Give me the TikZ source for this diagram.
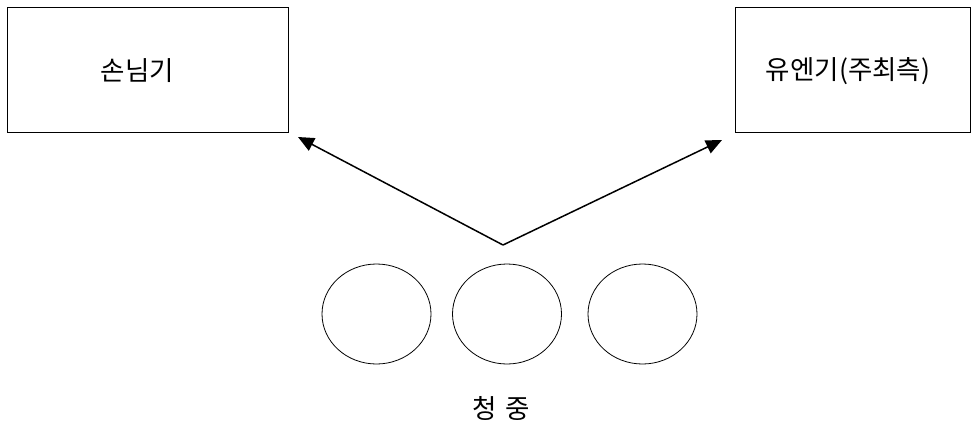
\documentclass[tikz,border=0pt]{standalone}
\usepackage{fontspec}
\newfontfamily\kr{Noto Sans CJK KR}
\usetikzlibrary{arrows.meta,shapes.geometric}
\begin{document}
\begin{tikzpicture}[x=1pt,y=-1pt,
  box/.style={draw,line width=1pt,inner sep=0pt},
  crowd/.style={draw,line width=0.8pt,ellipse,minimum width=109pt,minimum height=100pt,inner sep=0pt},
  lbl/.style={font=\kr\fontsize{26.5}{30}\selectfont,inner sep=0pt},
  arr/.style={line width=1.5pt,-{Triangle[length=16pt,width=14pt]}}]
\useasboundingbox (0,0) rectangle (971,426);
\node[box,minimum width=281pt,minimum height=125pt] (guest) at (147.5,69.5) {};
\node[box,minimum width=235pt,minimum height=125pt] (un) at (852.5,69.5) {};
\node[lbl] (tguest) at (137.5,71) {손님기};
\node[lbl] (tun) at (848,71) {유엔기(주최측)};
\coordinate (v) at (503,245);
\coordinate (lt) at (298,137);
\coordinate (rt) at (722,140);
\draw[arr] (v) -- (lt);
\draw[arr] (v) -- (rt);
\node[crowd] (c1) at (376.5,314) {};
\node[crowd] (c2) at (507,314) {};
\node[crowd] (c3) at (642.5,314) {};
\node[lbl] (aud) at (501.5,408) {청\hspace{9pt}중};
\end{tikzpicture}
\end{document}
